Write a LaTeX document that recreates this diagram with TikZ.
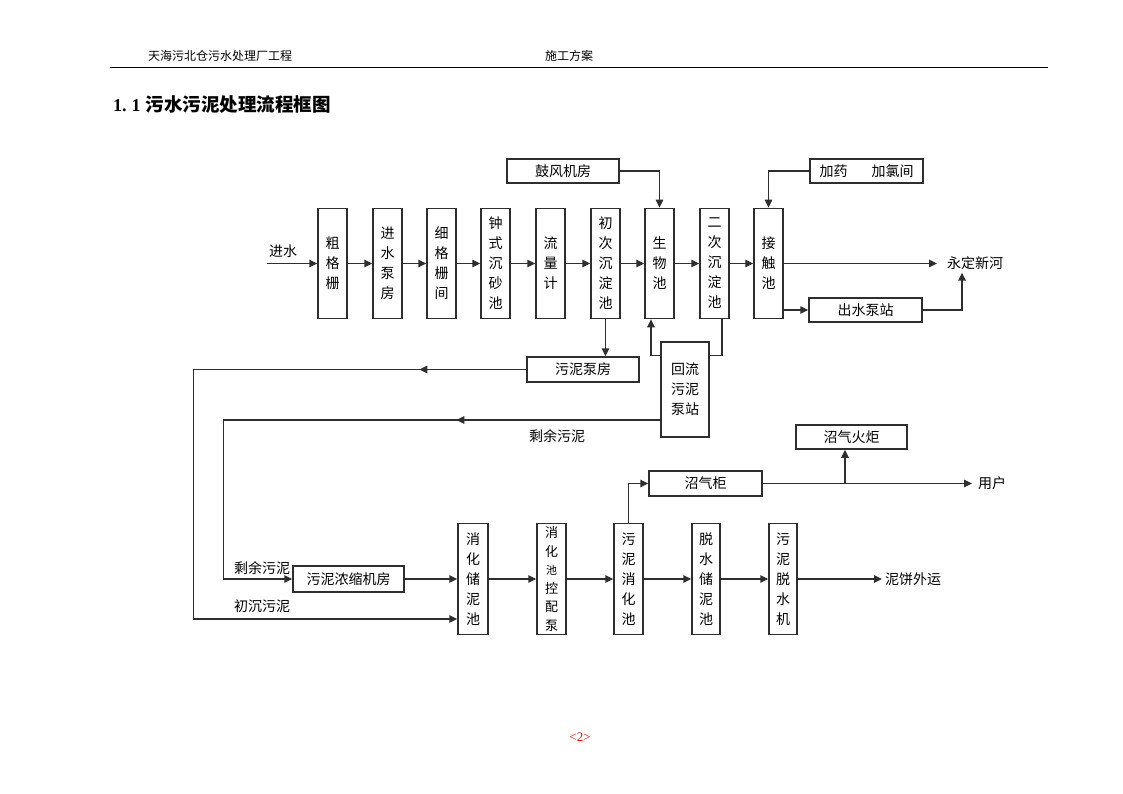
\documentclass[tikz,border=0pt]{standalone}
\usepackage{fontspec}
\setmainfont{Liberation Serif}
\newfontfamily\cjk{Noto Sans CJK SC}
\usetikzlibrary{arrows.meta,decorations.markings}
\tikzset{
  ln/.style={draw=black!82, line width=1.5pt},
  tip/.tip={Triangle[length=8pt,width=7.5pt]},
  box/.style={ln, inner sep=0pt, align=center, font=\cjk\fontsize{14}{20}\selectfont},
  vbox/.style={box, minimum width=29pt, minimum height=110pt},
  hbox/.style={box, minimum width=112pt, minimum height=24pt},
  arr/.style={ln, -tip},
  lbl/.style={inner sep=0pt, font=\cjk\fontsize{14}{16}\selectfont},
  midarr/.style={postaction={decorate}, decoration={markings,
     mark=at position #1 with {\arrow{tip}}}}
}
\begin{document}
\begin{tikzpicture}[x=1pt,y=-1pt]
\useasboundingbox[fill=white] (0,0) rectangle (1123,794);
% header
\node[inner sep=0pt, font=\cjk\fontsize{12}{14}\selectfont] (hl) at (220,56) {天海污北仓污水处理厂工程};
\node[inner sep=0pt, font=\cjk\fontsize{12}{14}\selectfont] (hr) at (569,56) {施工方案};
\draw[line width=0.9pt] (110,67) -- (1048,67);
\node[anchor=west, inner sep=0pt, font=\bfseries\fontsize{18}{20}\selectfont] (title) at (113,105) {1.\hspace{5pt}1\hspace{5pt}{\cjk\fontsize{18.5}{20}\selectfont 污水污泥处理流程框图}};
% top row
\node[vbox] (n1) at (332.5,263.5) {粗\\格\\栅};
\node[vbox] (n2) at (387.5,263.5) {进\\水\\泵\\房};
\node[vbox] (n3) at (441.5,263.5) {细\\格\\栅\\间};
\node[vbox] (n4) at (495.5,263.5) {钟\\式\\沉\\砂\\池};
\node[vbox] (n5) at (550.5,263.5) {流\\量\\计};
\node[vbox] (n6) at (605.5,263.5) {初\\次\\沉\\淀\\池};
\node[vbox] (n7) at (659.5,263.5) {生\\物\\池};
\node[vbox] (n8) at (714.5,263.5) {二\\次\\沉\\淀\\池};
\node[vbox] (n9) at (768.5,263.5) {接\\触\\池};
\coordinate (in) at (267,263.5);
\node[lbl] (inl) at (283,251) {进水};
\draw[arr] (in) -- (n1);
\draw[arr] (n1) -- (n2);
\draw[arr] (n2) -- (n3);
\draw[arr] (n3) -- (n4);
\draw[arr] (n4) -- (n5);
\draw[arr] (n5) -- (n6);
\draw[arr] (n6) -- (n7);
\draw[arr] (n7) -- (n8);
\draw[arr] (n8) -- (n9);
\node[lbl, anchor=west, inner xsep=10pt, inner ysep=2.5pt] (river) at (937,263.5) {永定新河};
\draw[arr] (n9) -- (river);
\node[hbox, minimum width=113pt] (pump) at (865.5,310) {出水泵站};
\draw[arr] (n9.east |- pump) -- (pump);
\draw[arr] (pump.east) -| ([xshift=25pt]river.south west);
\node[hbox] (blower) at (563,171) {鼓风机房};
\draw[arr] (blower.east) -| (n7.north);
\node[hbox, minimum width=113pt] (dose) at (866.5,171) {加药\hspace{24pt}加氯间};
\draw[arr] (dose.west) -| (n9.north);
% sludge pumps
\node[hbox, minimum height=25pt] (spump) at (583,369.5) {污泥泵房};
\draw[arr] (n6.south) -- (n6.south |- spump.north);
\node[box, minimum width=48pt, minimum height=95pt] (ret) at (685,389.5) {回流\\污泥\\泵站};
\draw[arr] ([yshift=-14pt]ret.north west) -| ([xshift=-8.5pt]n7.south);
\draw[ln] ([yshift=-14pt]ret.north east) -| ([xshift=7.5pt]n8.south);
\node[lbl] (excess1) at (557,436) {剩余污泥};
% bottom row
\node[box, minimum width=111pt, minimum height=26pt] (thick) at (348.5,579) {污泥浓缩机房};
\node[vbox, minimum width=30pt, minimum height=111pt] (m1) at (473,579) {消\\化\\储\\泥\\池};
\node[vbox, minimum height=111pt, font=\cjk\fontsize{13}{18.5}\selectfont] (m2) at (551.5,579) {消\\化\\{\fontsize{11}{18.5}\selectfont 池}\\控\\配\\泵};
\node[vbox, minimum height=111pt] (m3) at (628.5,579) {污\\泥\\消\\化\\池};
\node[vbox, minimum width=28pt, minimum height=111pt] (m4) at (706,579) {脱\\水\\储\\泥\\池};
\node[vbox, minimum width=28pt, minimum height=111pt] (m5) at (783,579) {污\\泥\\脱\\水\\机};
\draw[arr, midarr=107pt] (spump.west) -- ++(-333,0) |- ([yshift=-40pt]m1.west);
\draw[arr, midarr=204pt] ([yshift=-30.5pt]ret.west) -- ++(-437,0) |- (thick.west);
\node[lbl] (excess2) at (262,568) {剩余污泥};
\node[lbl] (prim) at (262,606) {初沉污泥};
\draw[arr] (thick) -- (m1);
\draw[arr] (m1) -- (m2);
\draw[arr] (m2) -- (m3);
\draw[arr] (m3) -- (m4);
\draw[arr] (m4) -- (m5);
\node[lbl, anchor=west, inner xsep=3pt] (cake) at (882,579) {泥饼外运};
\draw[arr] (m5) -- (cake);
% biogas
\node[hbox, minimum width=113pt, minimum height=25pt] (gas) at (705.5,483.5) {沼气柜};
\draw[arr] (m3.north) |- (gas.west);
\node[lbl, anchor=west, inner xsep=6pt] (user) at (972,483.5) {用户};
\draw[arr] (gas.east) -- (user.west);
\node[hbox, minimum width=111pt] (flare) at (851.5,437) {沼气火炬};
\coordinate (fb) at ([xshift=-6.5pt]flare.south);
\draw[arr] (fb |- gas.east) -- (fb);
% page number
\node[inner sep=0pt, text=red, font=\fontsize{13}{15}\selectfont] (page) at (580,737) {<2>};
\end{tikzpicture}
\end{document}
